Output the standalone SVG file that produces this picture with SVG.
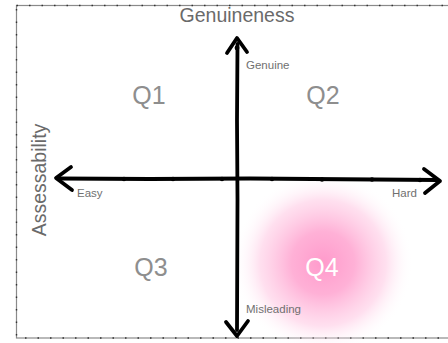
<svg xmlns="http://www.w3.org/2000/svg" width="448" height="343" viewBox="0 0 448 343">
<style>
.axis{fill:none;stroke:#000;stroke-width:3.8;stroke-linecap:round;stroke-linejoin:round}
.q{font-family:"Liberation Sans",Arial,sans-serif;font-size:25px;fill:#8e8e8e;text-anchor:middle}
.lbl{font-family:"Liberation Sans",Arial,sans-serif;font-size:11.5px;fill:#707070}
.title{font-family:"Liberation Sans",Arial,sans-serif;font-size:19.5px;fill:#6a6a6a;text-anchor:middle}
.dot{fill:#000}
</style>
<defs>
<radialGradient id="pink" cx="323" cy="263" r="90" gradientUnits="userSpaceOnUse">
<stop offset="0" stop-color="#ff9acb" stop-opacity="1"/>
<stop offset="0.35" stop-color="#ffa8d2" stop-opacity="0.9"/>
<stop offset="0.7" stop-color="#ffc6e2" stop-opacity="0.55"/>
<stop offset="1" stop-color="#ffffff" stop-opacity="0"/>
</radialGradient>
</defs>
<rect x="0" y="0" width="448" height="343" fill="#fff"/>
<g id="frame">
<rect x="16.5" y="5.5" width="445" height="332.5" fill="none" stroke="#8a8a8a" stroke-width="1.2"/>
<rect x="16.5" y="5.5" width="445" height="332.5" fill="none" stroke="#333" stroke-width="1.4" stroke-dasharray="1.5 11"/>
</g>
<g id="highlight">
<circle cx="323" cy="263" r="90" fill="url(#pink)"/>
</g>
<g id="connectors">
<path class="axis" d="M237.5,44 L237,120 L237.5,200 L237,330"/>
<path class="axis" d="M58,178.5 L150,179 L250,178.5 L437,180"/>
<path class="axis" d="M227,53 L237,38 L247,52"/>
<path class="axis" d="M226,322 L237,336 L248,321"/>
<path class="axis" d="M71,167 L56,178 L72,190"/>
<path class="axis" d="M424,169 L440,181 L425,193"/>
<circle class="dot" cx="124" cy="179" r="2.2"/>
<circle class="dot" cx="173" cy="179" r="2.2"/>
<circle class="dot" cx="222" cy="179" r="2.2"/>
<circle class="dot" cx="272" cy="179" r="2.2"/>
<circle class="dot" cx="322" cy="179.5" r="2.2"/>
<circle class="dot" cx="372" cy="179.5" r="2.2"/>
<circle class="dot" cx="420" cy="180" r="2.2"/>
<circle class="dot" cx="237" cy="48" r="2.4"/>
</g>
<g id="title-genuineness"><text class="title" x="237" y="22">Genuineness</text></g>
<g id="title-assessability"><text class="title" transform="translate(46,180) rotate(-90)" x="0" y="0">Assessability</text></g>
<g id="label-genuine"><text class="lbl" x="246" y="69">Genuine</text></g>
<g id="label-misleading"><text class="lbl" x="246" y="313">Misleading</text></g>
<g id="label-easy"><text class="lbl" x="77" y="197">Easy</text></g>
<g id="label-hard"><text class="lbl" x="392" y="197">Hard</text></g>
<g id="q1"><text class="q" x="149" y="104">Q1</text></g>
<g id="q2"><text class="q" x="323" y="104">Q2</text></g>
<g id="q3"><text class="q" x="151" y="276">Q3</text></g>
<g id="q4"><text class="q" x="322" y="276" style="fill:#fff">Q4</text></g>
</svg>
